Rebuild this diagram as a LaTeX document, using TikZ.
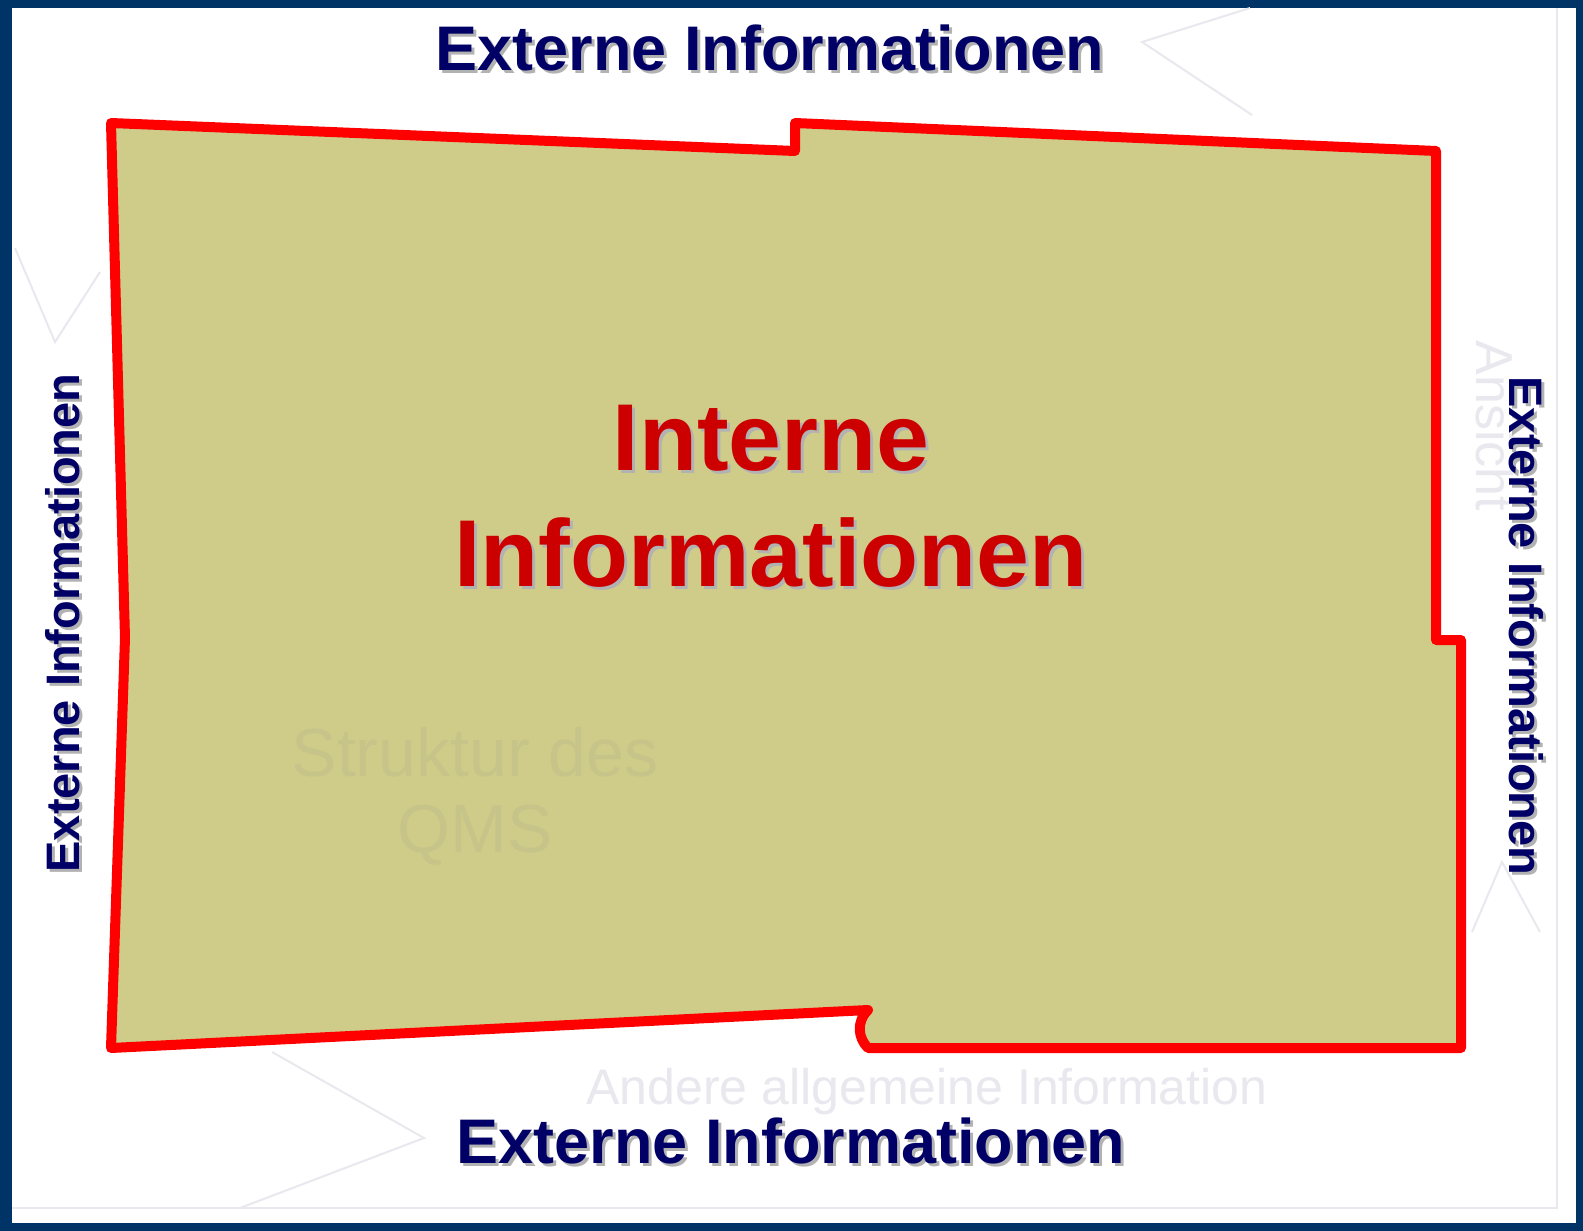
\documentclass[tikz,border=0pt]{standalone}
\usepackage{fontspec}
\setmainfont{Liberation Sans}
\usepackage{tikz}
\usetikzlibrary{positioning}
\definecolor{framenavy}{RGB}{0,51,102}
\definecolor{extnavy}{RGB}{0,0,102}
\definecolor{intred}{RGB}{204,0,0}
\definecolor{areared}{RGB}{255,0,0}
\definecolor{areafill}{RGB}{207,204,138}
\definecolor{ghost}{RGB}{232,232,238}

\begin{document}
\begin{tikzpicture}[
    x=1pt, y=-1pt,
    extlabel/.style={text=extnavy, font=\bfseries\fontsize{63}{70}\selectfont, inner sep=0pt},
    sidelabel/.style={text=extnavy, font=\bfseries\fontsize{47}{52}\selectfont, inner sep=0pt},
    intlabel/.style={text=intred, font=\bfseries\fontsize{95}{116}\selectfont, align=center, inner sep=0pt},
    shadow/.style={text=black!30},
    ghosttext/.style={inner sep=0pt},
    ghostline/.style={draw=ghost, line width=2pt}
]
    % frame
    \fill[framenavy] (0,0) rectangle (1583,1231);
    \fill[white] (12,8) rectangle (1576,1223);
    \useasboundingbox (0,0) rectangle (1583,1231);
    \draw[ghost, line width=1.5pt] (12,1208) -- (1557,1208) -- (1557,8);

    % faint background
    \draw[ghostline] (1250,8) -- (1142,42) -- (1252,115);
    \draw[ghostline] (15,248) -- (55,342) -- (100,272);
    \draw[ghostline] (272,1052) -- (424,1138) -- (240,1208);
    \draw[ghostline] (1472,932) -- (1502,862) -- (1540,932);
    \node[ghosttext, text=ghost, font=\fontsize{50}{56}\selectfont, anchor=base] (general) at (927,1104) {Andere allgemeine Information};
    \node[ghosttext, text=ghost, font=\fontsize{52}{58}\selectfont, rotate=-90] (view) at (1495,426) {Ansicht};

    % internal area
    \coordinate (p1) at (111,123);
    \coordinate (p2) at (795,151);
    \coordinate (p3) at (795,123);
    \coordinate (p4) at (1436,151);
    \coordinate (p5) at (1436,640);
    \coordinate (p6) at (1461,640);
    \coordinate (p7) at (1461,1048);
    \coordinate (p8) at (868,1048);
    \coordinate (p9) at (868,1010);
    \coordinate (p10) at (111,1048);
    \coordinate (p11) at (125,638);
    \filldraw[fill=areafill, draw=areared, line width=10pt, line join=round]
        (p1) -- (p2) -- (p3) -- (p4) -- (p5) -- (p6) -- (p7) -- (p8)
        .. controls (858,1038) and (856,1022) .. (p9) -- (p10) -- (p11) -- cycle;
    \node[ghosttext, text=areafill!90!gray, font=\fontsize{68}{76}\selectfont, align=center] (structure) at (475,796) {Struktur des\\QMS};

    % labels
    \node[extlabel, shadow] at (773,51) {Externe Informationen};
    \node[extlabel] (top) at (770,48) {Externe Informationen};
    \node[extlabel, shadow] at (794,1144) {Externe Informationen};
    \node[extlabel] (bottom) at (791,1141) {Externe Informationen};
    \node[sidelabel, shadow, rotate=90] at (66,626) {Externe Informationen};
    \node[sidelabel, rotate=90] (left) at (63,623) {Externe Informationen};
    \node[sidelabel, shadow, rotate=-90] at (1529,629) {Externe Informationen};
    \node[sidelabel, rotate=-90] (right) at (1526,626) {Externe Informationen};
    \node[intlabel, shadow] at (774,499) {Interne\\Informationen};
    \node[intlabel] (internal) at (771,496) {Interne\\Informationen};
\end{tikzpicture}
\end{document}
